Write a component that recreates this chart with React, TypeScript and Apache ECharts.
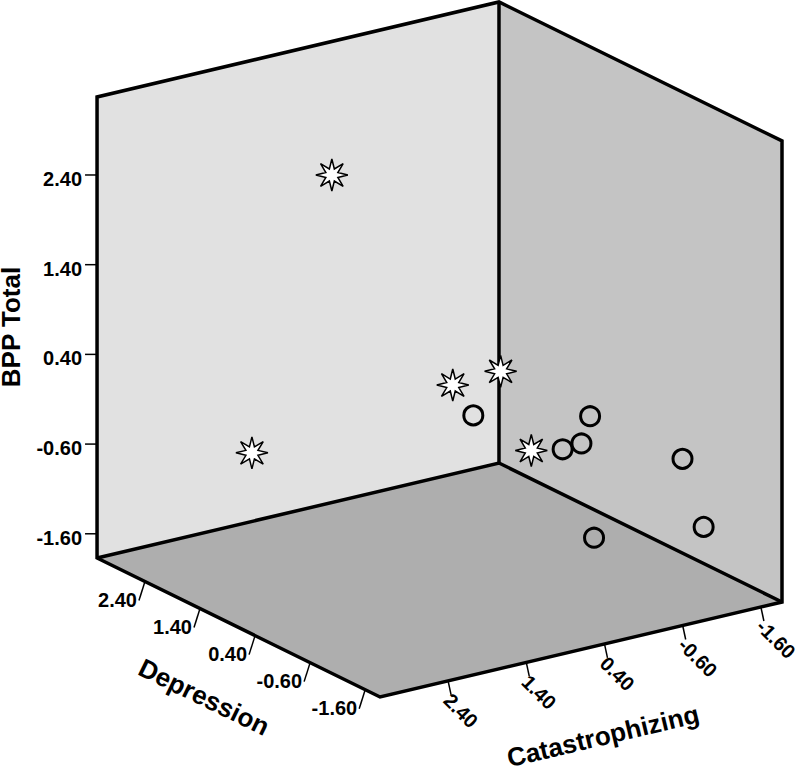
import React, { useEffect, useRef } from "react";
import * as echarts from "echarts";

// ---- axis settings (same scale on all three axes) ----
const AXIS_MIN = -1.87;
const AXIS_MAX = 3.27;
const tickValues = [-1.6, -0.6, 0.4, 1.4, 2.4];
const tickLabels = ["-1.60", "-0.60", "0.40", "1.40", "2.40"];

// ---- group 1 (stars) ----
const starDepression = [2.13, 2.63, 0.63, 0.13, -0.37];
const starCatastrophizing = [1.07, 1.74, 0.58, 0.32, 0.28];
const starBPP = [2.29, -0.82, 0.3, 0.55, -0.19];

// ---- group 2 (circles) ----
const circleDepression = [-0.07, -0.87, -0.67, -0.57, -1.27, -1.37, -0.97];
const circleCatastrophizing = [0.81, -0.12, -0.15, 0.02, -1.02, -1.22, -0.1];
const circleBPP = [0.22, 0.26, -0.11, -0.17, -0.28, -1.05, -1.06];

// ---- oblique projection of the 3D box onto a hidden 2D plane ----
const ORIGIN = [782, 602]; // corner (min, min, min)
const U_DEP = [-55.06, -27.04];
const U_CAT = [-78.2, 18.48];
const U_BPP = [0, -89.7];

function project(d: number, c: number, b: number): number[] {
  const a = d - AXIS_MIN;
  const cc = c - AXIS_MIN;
  const bb = b - AXIS_MIN;
  return [
    ORIGIN[0] + a * U_DEP[0] + cc * U_CAT[0] + bb * U_BPP[0],
    ORIGIN[1] + a * U_DEP[1] + cc * U_CAT[1] + bb * U_BPP[1],
  ];
}

function starPath(n: number, ro: number, ri: number): string {
  let s = "path://";
  for (let i = 0; i < 2 * n; i++) {
    const r = i % 2 === 0 ? ro : ri;
    const ang = -Math.PI / 2 + (i * Math.PI) / n;
    s += (i === 0 ? "M" : "L") + (r * Math.cos(ang)).toFixed(3) + " " + (r * Math.sin(ang)).toFixed(3) + " ";
  }
  return s + "Z";
}

const FONT = "'Liberation Sans', Arial, Helvetica, sans-serif";

function txt(x: number, y: number, text: string, size: number, align: string, valign: string, rotation = 0) {
  return {
    type: "text",
    x,
    y,
    rotation,
    style: {
      text,
      fill: "#000",
      fontSize: size,
      fontWeight: "bold",
      fontFamily: FONT,
      textAlign: align,
      textVerticalAlign: valign,
      align,
      verticalAlign: valign,
    },
  };
}

export default function App() {
  const ref = useRef<HTMLDivElement>(null);

  useEffect(() => {
    document.body.style.margin = "0";
    if (!ref.current) return;
    const chart = echarts.init(ref.current, undefined, { renderer: "svg" });

    const renderFrame = (_params: any, api: any) => {
      const P = (d: number, c: number, b: number) => api.coord(project(d, c, b));
      const lo = AXIS_MIN;
      const hi = AXIS_MAX;
      const Lb = P(hi, hi, lo);
      const Lt = P(hi, hi, hi);
      const Bb = P(hi, lo, lo);
      const Bt = P(hi, lo, hi);
      const Rb = P(lo, lo, lo);
      const Rt = P(lo, lo, hi);
      const F = P(lo, hi, lo);
      const edge = { stroke: "#000", lineWidth: 3.5, fill: "none", lineJoin: "miter" };
      const tickStyle = { stroke: "#000", lineWidth: 1.5 };
      const children: any[] = [
        { type: "polygon", shape: { points: [Lb, Lt, Bt, Bb] }, style: { fill: "#e1e1e1" } },
        { type: "polygon", shape: { points: [Bb, Bt, Rt, Rb] }, style: { fill: "#c4c4c4" } },
        { type: "polygon", shape: { points: [Lb, Bb, Rb, F] }, style: { fill: "#aeaeae" } },
        { type: "line", shape: { x1: Bt[0], y1: Bt[1], x2: Bb[0], y2: Bb[1] }, style: edge },
        { type: "polyline", shape: { points: [Lb, Bb, Rb] }, style: edge },
        { type: "polygon", shape: { points: [Lb, Lt, Bt, Rt, Rb, F] }, style: edge },
      ];
      tickValues.forEach((v, i) => {
        // BPP Total (vertical axis, left edge)
        const pb = P(hi, hi, v);
        children.push({ type: "line", shape: { x1: pb[0] - 12, y1: pb[1], x2: pb[0], y2: pb[1] }, style: tickStyle });
        children.push(txt(pb[0] - 15, pb[1] + 4, tickLabels[i], 20, "right", "middle"));
        // Depression (front-left edge)
        const pd = P(v, hi, lo);
        children.push({ type: "line", shape: { x1: pd[0], y1: pd[1], x2: pd[0] - 6, y2: pd[1] + 19 }, style: tickStyle });
        children.push(txt(pd[0] - 8, pd[1] + 18, tickLabels[i], 20, "right", "middle"));
        // Catastrophizing (front-right edge)
        const pc = P(lo, v, lo);
        children.push({ type: "line", shape: { x1: pc[0], y1: pc[1], x2: pc[0] + 3, y2: pc[1] + 14 }, style: tickStyle });
        children.push(txt(pc[0] - 1, pc[1] + 16, tickLabels[i], 20, "left", "middle", -Math.PI / 4));
      });
      // axis titles
      const tb = api.coord([11, 327]);
      children.push(txt(tb[0], tb[1], "BPP Total", 26, "center", "middle", Math.PI / 2));
      const td = api.coord([204, 697]);
      children.push(txt(td[0], td[1], "Depression", 26, "center", "middle", (-26 * Math.PI) / 180));
      const tc = api.coord([603, 736]);
      children.push(txt(tc[0], tc[1], "Catastrophizing", 26, "center", "middle", (13.3 * Math.PI) / 180));
      return { type: "group", children };
    };

    const starData = starDepression.map((d, i) => project(d, starCatastrophizing[i], starBPP[i]));
    const circleData = circleDepression.map((d, i) => project(d, circleCatastrophizing[i], circleBPP[i]));

    chart.setOption({
      animation: false,
      grid: { left: 0, right: 0, top: 0, bottom: 0 },
      xAxis: { type: "value", min: 0, max: 800, show: false },
      yAxis: { type: "value", min: 0, max: 768, inverse: true, show: false },
      series: [
        {
          type: "custom",
          name: "frame",
          data: [[0, 0]],
          clip: false,
          silent: true,
          z: 1,
          renderItem: renderFrame,
        },
        {
          type: "scatter",
          name: "Group 2",
          data: circleData,
          symbol: "circle",
          symbolSize: 19,
          z: 3,
          itemStyle: { color: "rgba(0,0,0,0)", borderColor: "#000", borderWidth: 3, opacity: 1 },
        },
        {
          type: "scatter",
          name: "Group 1",
          data: starData,
          symbol: starPath(8, 16, 6.5),
          symbolSize: 32,
          z: 4,
          itemStyle: { color: "#fff", borderColor: "#000", borderWidth: 1.5, opacity: 1 },
        },
      ],
    });

    return () => {
      chart.dispose();
    };
  }, []);

  return <div ref={ref} style={{ width: 800, height: 768 }} />;
}
